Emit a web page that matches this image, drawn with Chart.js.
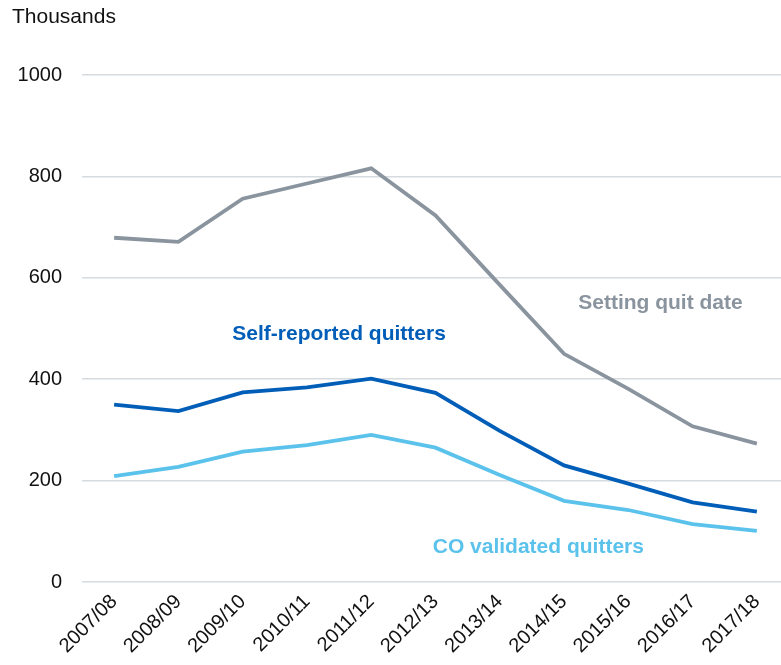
<!DOCTYPE html>
<html>
<head>
<meta charset="utf-8">
<script src="https://cdn.jsdelivr.net/npm/chart.js@4/dist/chart.umd.min.js"></script>
<style>
  html, body { margin: 0; padding: 0; background: #fff; overflow: hidden; }
  #wrap { width: 781px; height: 665px; overflow: hidden; position: relative; }
  #wrap canvas { position: absolute; left: 0; top: 0; }
</style>
</head>
<body>
<div id="wrap"><canvas id="c" width="790" height="665"></canvas></div>
<script>
// Stop smoking services, England (thousands)
const years = ['2007/08','2008/09','2009/10','2010/11','2011/12','2012/13','2013/14','2014/15','2015/16','2016/17','2017/18'];
const settingQuitDate = [679, 671, 756, 786, 816, 723, 586, 450, 381, 307, 273];
const selfReported    = [350, 337, 374, 384, 401, 373, 298, 230, 194, 157, 139];
const coValidated     = [209, 227, 257, 270, 290, 265, 211, 160, 142, 114, 101];
const yTicks = [0, 200, 400, 600, 800, 1000];

const GREY = '#8a949f';
const DARK_BLUE = '#005eb8';
const LIGHT_BLUE = '#5bc2ec';
const FONT = "'Liberation Sans', Arial, sans-serif";

// Series name labels, placed in data space (category index, value)
const seriesLabels = [
  { text: 'Setting quit date',     x: 8.5, y: 538, color: GREY },
  { text: 'Self-reported quitters', x: 3.5, y: 477, color: DARK_BLUE },
  { text: 'CO validated quitters', x: 6.6, y: 58,  color: LIGHT_BLUE }
];

const labelPlugin = {
  id: 'seriesLabels',
  afterDatasetsDraw(chart) {
    const { ctx, scales } = chart;
    ctx.save();
    ctx.font = 'bold 21px ' + FONT;
    ctx.textAlign = 'center';
    ctx.textBaseline = 'alphabetic';
    seriesLabels.forEach(l => {
      const px = scales.x.getPixelForValue(l.x);
      const py = scales.y.getPixelForValue(l.y);
      ctx.fillStyle = l.color;
      ctx.fillText(l.text, px, py);
    });
    ctx.restore();
  }
};

const unitPlugin = {
  id: 'unitTitle',
  afterDraw(chart) {
    const { ctx } = chart;
    ctx.save();
    ctx.font = '21px ' + FONT;
    ctx.fillStyle = '#111';
    ctx.textAlign = 'left';
    ctx.textBaseline = 'middle';
    ctx.fillText('Thousands', 12, 17);
    ctx.restore();
  }
};

new Chart(document.getElementById('c'), {
  type: 'line',
  data: {
    labels: years,
    datasets: [
      { label: 'Setting quit date', data: settingQuitDate, borderColor: GREY, borderWidth: 3.8 },
      { label: 'Self-reported quitters', data: selfReported, borderColor: DARK_BLUE, borderWidth: 3.8 },
      { label: 'CO validated quitters', data: coValidated, borderColor: LIGHT_BLUE, borderWidth: 3.8 }
    ]
  },
  options: {
    responsive: false,
    animation: false,
    devicePixelRatio: 1,
    layout: { padding: { top: 75, right: 1, left: 0, bottom: 0 } },
    elements: { point: { radius: 0 }, line: { tension: 0, borderCapStyle: 'butt', borderJoinStyle: 'miter' } },
    plugins: { legend: { display: false }, tooltip: { enabled: false } },
    scales: {
      x: {
        offset: true,
        grid: { display: false, drawTicks: false },
        border: { display: false },
        ticks: {
          color: '#111',
          font: { family: FONT, size: 20 },
          minRotation: 45, maxRotation: 45,
          padding: 8,
          autoSkip: false
        },
        afterFit(scale) { scale.height = 83; }
      },
      y: {
        min: 0, max: 1000,
        afterBuildTicks(scale) { scale.ticks = yTicks.map(v => ({ value: v })); },
        grid: { color: '#d6dbdf', lineWidth: 1.5, drawTicks: false },
        border: { display: false },
        ticks: {
          color: '#111',
          font: { family: FONT, size: 20 },
          padding: 20,
          callback: v => String(v)
        },
        afterFit(scale) { scale.width = 82; }
      }
    }
  },
  plugins: [labelPlugin, unitPlugin]
});
</script>
</body>
</html>
